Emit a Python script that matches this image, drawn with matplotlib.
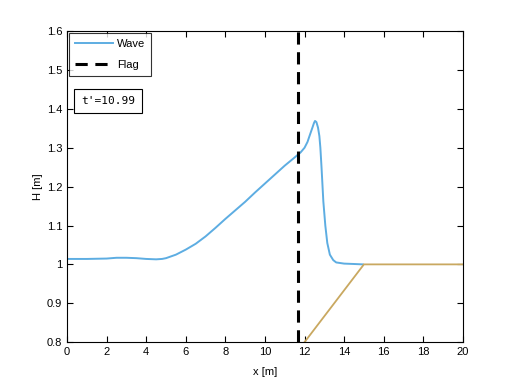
import matplotlib
matplotlib.use('Agg')
import matplotlib.pyplot as plt

plt.rcParams['font.family'] = ['Liberation Sans', 'DejaVu Sans']

# wave profile at t'=10.99
wave_x = [0, 1, 2, 2.5, 3, 3.5, 4, 4.5, 4.8, 5.0, 5.5, 6.0, 6.5, 7.0, 7.5, 8.0,
          8.5, 9.0, 9.5, 10.0, 10.5, 11.0, 11.5, 11.8, 12.0, 12.15, 12.27, 12.4,
          12.48, 12.53, 12.6, 12.68, 12.75, 12.8, 12.86, 12.95, 13.05, 13.15,
          13.28, 13.45, 13.6, 14.0, 14.5, 14.95]
wave_h = [1.014, 1.014, 1.015, 1.017, 1.017, 1.016, 1.014, 1.013, 1.014, 1.016,
          1.025, 1.038, 1.053, 1.072, 1.094, 1.117, 1.139, 1.161, 1.185, 1.208,
          1.231, 1.254, 1.275, 1.288, 1.300, 1.315, 1.333, 1.352, 1.364, 1.369,
          1.366, 1.352, 1.33, 1.3, 1.248, 1.162, 1.1, 1.055, 1.025, 1.011, 1.005,
          1.002, 1.001, 1.0]

# bottom / bathymetry
bed_x = [12, 15, 20]
bed_h = [0.8, 1.0, 1.0]

flag_x = 11.67
t_label = "t'=10.99"

fig = plt.figure(figsize=(5.12, 3.84), dpi=100)
ax = fig.add_axes([0.131, 0.109, 0.773, 0.81])

ax.plot(wave_x, wave_h, color='#5DADE2', lw=1.4, label='Wave')
ax.plot([flag_x, flag_x], [0.8, 1.6], 'k--', lw=2.2, dashes=(4, 2.5), label='Flag')
ax.plot(bed_x, bed_h, color='#C9A860', lw=1.3)

ax.set_xlim(0, 20)
ax.set_ylim(0.8, 1.6)
ax.set_xticks(range(0, 21, 2))
ax.set_yticks([0.8, 0.9, 1.0, 1.1, 1.2, 1.3, 1.4, 1.5, 1.6])
ax.set_yticklabels(['0.8', '0.9', '1', '1.1', '1.2', '1.3', '1.4', '1.5', '1.6'])
ax.tick_params(direction='in', top=True, right=True, labelsize=8, length=4)
ax.set_xlabel('x [m]', fontsize=8, labelpad=7)
ax.set_ylabel('H [m]', fontsize=8, labelpad=3)

leg = ax.legend(loc='upper left', fontsize=8, fancybox=False, edgecolor='black',
                borderaxespad=0.2, handlelength=3.4, handletextpad=0.4,
                labelspacing=1.0, borderpad=0.5)
leg.get_frame().set_linewidth(0.8)

ax.text(0.035, 0.775, t_label, transform=ax.transAxes, fontsize=8,
        family='DejaVu Sans Mono', va='center',
        bbox=dict(boxstyle='square,pad=0.6', fc='white', ec='black', lw=0.8))

fig.savefig('out.png', dpi=100)
